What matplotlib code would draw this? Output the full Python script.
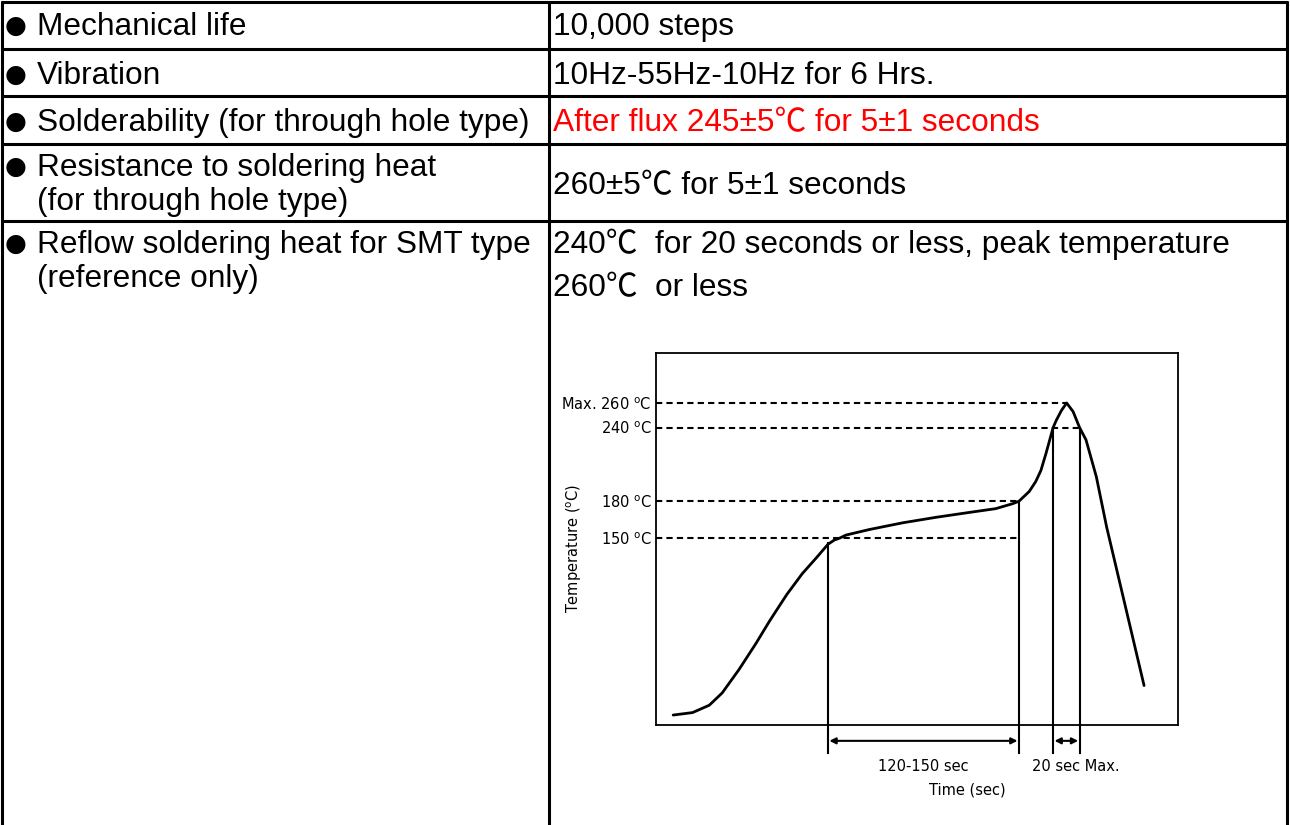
import matplotlib.pyplot as plt

# table content
left_text = [["Mechanical life"],
             ["Vibration"],
             ["Solderability (for through hole type)"],
             ["Resistance to soldering heat", "(for through hole type)"],
             ["Reflow soldering heat for SMT type", "(reference only)"]]
right_text = [["10,000 steps"],
              ["10Hz-55Hz-10Hz for 6 Hrs."],
              ["After flux 245±5℃ for 5±1 seconds"],
              ["260±5℃ for 5±1 seconds"],
              ["240℃  for 20 seconds or less, peak temperature", "260℃  or less"]]
right_color = ["black", "black", "red", "black", "black"]

# reflow profile (schematic), time in sec, temperature in degC
time_s = [0, 15, 28, 38, 51, 64, 75, 88, 100, 111, 120, 125, 129, 134, 152, 178,
          204, 230, 250, 263, 268, 276, 281, 285, 289, 294.5, 297, 301, 305, 310,
          315, 320, 328, 336, 365]
temp_c = [6, 8, 14, 24, 43, 64, 83, 104, 121, 134, 145, 148.5, 150, 152.5, 157, 162.5,
          167, 171, 174, 178, 180, 188, 196, 205, 219, 240, 246, 254, 260, 253,
          240, 230, 200, 159, 30]

levels = [150, 180, 240, 260]
level_labels = ["150 $^{\\rm o}$C", "180 $^{\\rm o}$C", "240 $^{\\rm o}$C", "Max. 260 $^{\\rm o}$C"]
level_end = [268, 268, 315, 305]
mark_t = [120, 268, 294.5, 315]
mark_top = [146, 180, 240, 240]

plt.rcParams['font.family'] = ['Liberation Sans', 'Noto Sans CJK JP', 'DejaVu Sans']

fig = plt.figure(figsize=(12.9, 8.25), dpi=100)

# ---- table in pixel coords ----
tab = fig.add_axes([0, 0, 1, 1])
tab.set_xlim(0, 1290)
tab.set_ylim(825, 0)
tab.axis('off')

row_lines = [2, 49, 96, 144, 221]
for y in row_lines:
    tab.plot([1, 1288], [y, y], color='black', lw=2.2, solid_capstyle='butt')
for x in [1.5, 549, 1287]:
    tab.plot([x, x], [1, 825], color='black', lw=2.2, solid_capstyle='butt')

left_base = [[35], [84], [131], [176, 210], [253, 287]]
right_base = [[35], [84], [131], [194], [253, 296]]
fs = 22.8
for i in range(5):
    tab.text(5, left_base[i][0] - 2.5, "●", fontsize=18, va='baseline', ha='left',
             family=['DejaVu Sans'])
    for j, s in enumerate(left_text[i]):
        tab.text(37, left_base[i][j], s, fontsize=fs, va='baseline', ha='left')
    for j, s in enumerate(right_text[i]):
        tab.text(553, right_base[i][j], s, fontsize=fs, va='baseline', ha='left',
                 color=right_color[i])

# ---- reflow chart ----
ax = fig.add_axes([656 / 1290, 100 / 825, 522 / 1290, 372 / 825])
ax.set_xlim(-13.3, 391.3)
ax.set_ylim(-2.1, 300.7)
for sp in ax.spines.values():
    sp.set_linewidth(1.3)

cf = ['DejaVu Sans']
ax.plot(time_s, temp_c, color='black', lw=2.0, solid_joinstyle='round',
        solid_capstyle='round')

for lv, te in zip(levels, level_end):
    ax.plot([-13.3, te], [lv, lv], color='black', lw=1.5, linestyle=(0, (3, 2)))

for t, top in zip(mark_t, mark_top):
    ax.plot([t, t], [top, -25], color='black', lw=1.5, clip_on=False)

arrow_y = -15
for a, b in [(mark_t[0], mark_t[1]), (mark_t[2], mark_t[3])]:
    ax.annotate('', xy=(b, arrow_y), xytext=(a, arrow_y),
                arrowprops=dict(arrowstyle='<|-|>', color='black', lw=1.5,
                                mutation_scale=9, shrinkA=1, shrinkB=1),
                annotation_clip=False)

ax.set_xticks([])
ax.set_yticks(levels)
ax.set_yticklabels(level_labels, fontsize=10.5, family=cf)
ax.tick_params(axis='y', length=0, pad=3)

ax.text(194, -36, "120-150 sec", fontsize=10.5, family=cf, ha='center', va='center')
ax.text(312, -36, "20 sec Max.", fontsize=10.5, family=cf, ha='center', va='center')
ax.text(228, -55, "Time (sec)", fontsize=10.5, family=cf, ha='center', va='center')
ax.set_ylabel("Temperature ($^{\\rm o}$C)", fontsize=10.5, family=cf)
ax.yaxis.set_label_coords(-0.138, 0.476)

fig.savefig('out.png', dpi=100)
